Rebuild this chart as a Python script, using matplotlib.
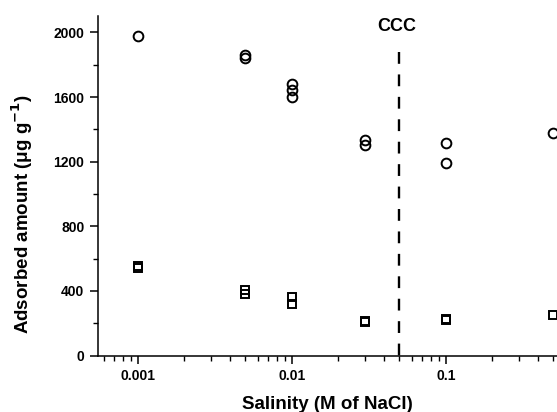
import numpy as np
import matplotlib
matplotlib.use("Agg")
from matplotlib import pyplot as plt
from matplotlib.ticker import FixedLocator, LogLocator, NullFormatter, FixedFormatter

plt.rcParams['font.family'] = ['Liberation Sans', 'DejaVu Sans']
plt.rcParams['font.weight'] = 'bold'

# circles: upper series
circ_x = [0.001, 0.005, 0.005, 0.01, 0.01, 0.01, 0.03, 0.03, 0.1, 0.1, 0.5]
circ_y = [1980, 1860, 1845, 1680, 1645, 1600, 1335, 1305, 1315, 1190, 1378]
# squares: lower series
sq_x = [0.001, 0.001, 0.005, 0.005, 0.01, 0.01, 0.03, 0.03, 0.1, 0.1, 0.5]
sq_y = [555, 540, 405, 380, 362, 322, 215, 208, 225, 218, 252]

ccc = 0.05
yticks = [0, 400, 800, 1200, 1600, 2000]
xticks = [0.001, 0.01, 0.1]
xticklabels = ['0.001', '0.01', '0.1']

fig = plt.figure(figsize=(5.57, 4.12), dpi=100)
ax = fig.add_axes([0.176, 0.137, 0.9008, 0.8245])

ax.plot(circ_x, circ_y, 'o', ms=7.0, mfc='none', mec='black', mew=1.4, clip_on=False)
ax.plot(sq_x, sq_y, 's', ms=6.0, mfc='none', mec='black', mew=1.4, clip_on=False)

# critical coagulation concentration
ax.plot([ccc, ccc], [1880, 0], color='black', lw=1.7, linestyle=(0, (5, 4.5)))
ax.text(ccc * 0.96, 2040, 'CCC', ha='center', va='center', fontsize=13, fontweight='bold')

ax.set_xscale('log')
ax.set_xlim(0.000552, 1.0)
ax.set_ylim(0, 2103)

ax.xaxis.set_major_locator(FixedLocator(xticks))
ax.xaxis.set_major_formatter(FixedFormatter(xticklabels))
ax.xaxis.set_minor_locator(LogLocator(base=10, subs=np.arange(2, 10)))
ax.xaxis.set_minor_formatter(NullFormatter())
ax.yaxis.set_major_locator(FixedLocator(yticks))
ax.yaxis.set_minor_locator(FixedLocator([200, 600, 1000, 1400, 1800]))

ax.spines['top'].set_visible(False)
ax.spines['right'].set_visible(False)
ax.spines['left'].set_linewidth(1.1)
ax.spines['bottom'].set_linewidth(1.1)
ax.tick_params(which='major', direction='out', length=5.8, width=1.1, labelsize=10, pad=4)
ax.tick_params(which='minor', direction='out', length=3.3, width=1.0)
for lab in ax.get_xticklabels() + ax.get_yticklabels():
    lab.set_fontweight('bold')

ax.set_xlabel('Salinity (M of NaCl)', fontsize=13.5, fontweight='bold')
ax.set_ylabel('Adsorbed amount (\u03bcg g$^{\\mathbf{-1}}$)', fontsize=13.5, fontweight='bold')
ax.xaxis.set_label_coords(0.458, -0.119)
ax.yaxis.set_label_coords(-0.126, 0.417)

fig.savefig('out.png', dpi=100)
